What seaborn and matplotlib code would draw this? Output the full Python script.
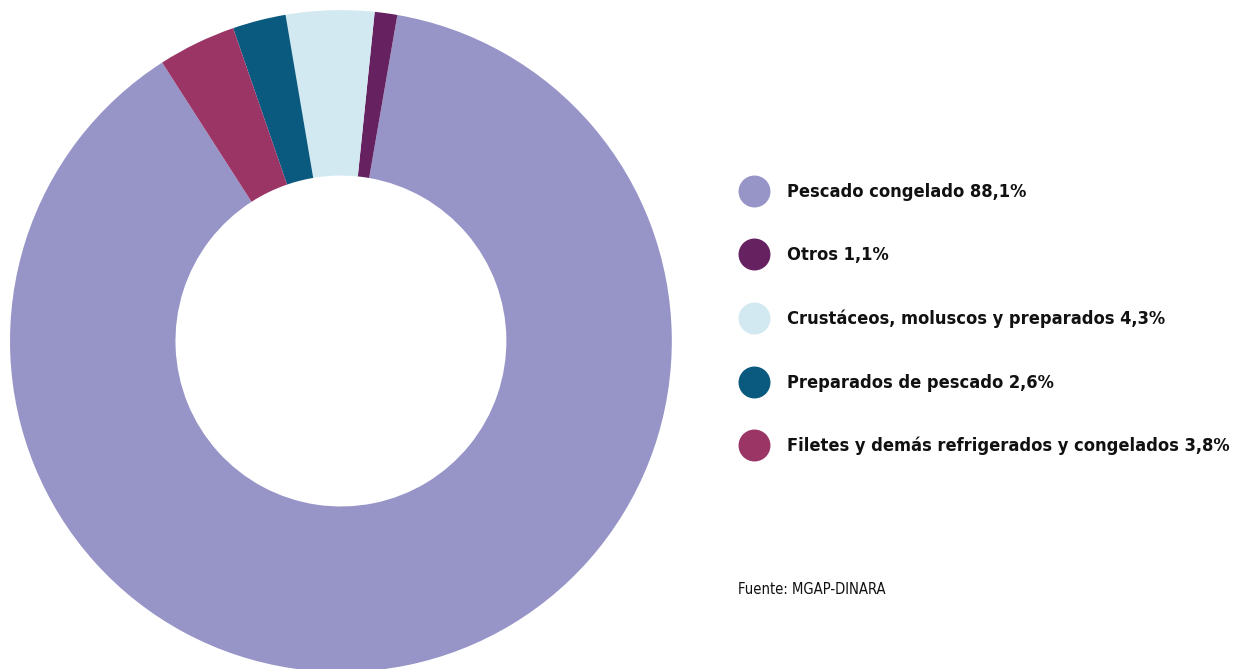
import matplotlib
matplotlib.use("Agg")
import matplotlib.pyplot as plt
import seaborn as sns

# data (legend order, counterclockwise from the big slice)
labels = ["Pescado congelado", "Otros", "Crustáceos, moluscos y preparados",
          "Preparados de pescado", "Filetes y demás refrigerados y congelados"]
shares = [88.1, 1.1, 4.3, 2.6, 3.8]
share_text = ["88,1%", "1,1%", "4,3%", "2,6%", "3,8%"]
colors = ["#9794C8", "#662160", "#D2E9F2", "#0A5A80", "#9A3566"]

sns.set_theme(style="white")
plt.rcParams['font.family'] = ['DejaVu Sans']
plt.rcParams['font.stretch'] = 'condensed'

fig = plt.figure(figsize=(12.37, 6.69), dpi=100)
ax = fig.add_axes([0.0081, -0.0045, 0.535, 0.9895])
ax.pie(shares, colors=colors, startangle=122.7, counterclock=True,
       radius=1.0, wedgeprops=dict(width=0.5, linewidth=0))
ax.set_xlim(-1, 1)
ax.set_ylim(-1, 1)
ax.set_aspect('equal')
ax.axis('off')

# legend drawn by hand
ys = [191, 254, 318, 382, 445]
lax = fig.add_axes([0, 0, 1, 1])
lax.set_xlim(0, 1237)
lax.set_ylim(669, 0)
lax.axis('off')
for y, lab, pct, col in zip(ys, labels, share_text, colors):
    lax.plot(754, y, 'o', ms=23, color=col, mec='none')
    lax.text(787, y + 1, f"{lab} {pct}", fontsize=13.1, fontweight='bold',
             fontstretch='condensed', va='center', ha='left', color='#111111')

lax.text(738, 590, "Fuente: MGAP-DINARA", fontsize=10.6, fontstretch='condensed',
         va='center', ha='left', color='#111111')

fig.savefig("out.png", dpi=100)
